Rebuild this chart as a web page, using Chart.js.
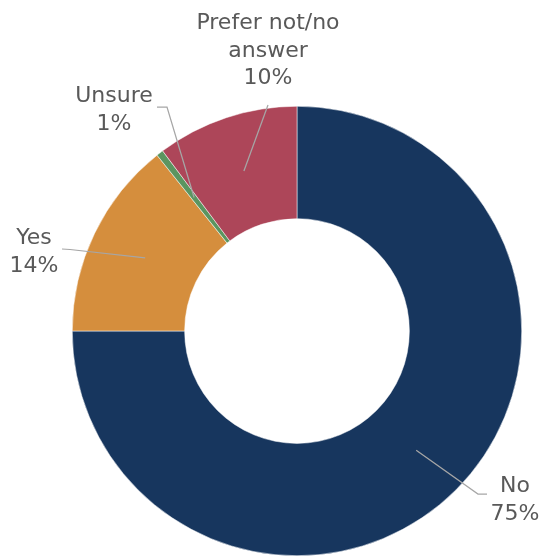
<!DOCTYPE html>
<html>
<head>
<meta charset="utf-8">
<script src="https://cdn.jsdelivr.net/npm/chart.js@4.4.1/dist/chart.umd.min.js"></script>
<style>
  html, body { margin: 0; padding: 0; background: #ffffff; }
  #wrap { position: relative; width: 540px; height: 557px; }
</style>
</head>
<body>
<div id="wrap"><canvas id="donut-chart"></canvas></div>
<script>
// answers, starting at 12 o'clock and going clockwise
const categories = ["No", "Yes", "Unsure", "Prefer not/no answer"];
const shares = [75, 14.3, 0.5, 10.2];
const pctLabels = ["75%", "14%", "1%", "10%"];
const colors = ["#17365e", "#d58e3d", "#5b9560", "#ad4659"];

// where Excel put each data label (text lines, centre x, first baseline)
// and the elbow of its leader line
const labelLayout = [
  { lines: ["No"], x: 515, y: 492, elbow: [[478, 494], [487, 494]] },
  { lines: ["Yes"], x: 34, y: 244, elbow: [[70, 249.5], [62, 249]] },
  { lines: ["Unsure"], x: 114, y: 102, elbow: [[167, 107], [157, 107]] },
  { lines: ["Prefer not/no", "answer"], x: 268, y: 29, elbow: [[268, 105]] },
];

// draws the data labels with their grey leader lines
const calloutLabels = {
  id: "calloutLabels",
  afterDatasetsDraw(chart) {
    const ctx = chart.ctx;
    const arcs = chart.getDatasetMeta(0).data;
    ctx.save();
    ctx.strokeStyle = "#a6a6a6";
    ctx.lineWidth = 1.25;
    arcs.forEach((arc, i) => {
      const p = arc.tooltipPosition();
      ctx.beginPath();
      ctx.moveTo(p.x, p.y);
      labelLayout[i].elbow.forEach(pt => ctx.lineTo(pt[0], pt[1]));
      ctx.stroke();
    });
    ctx.fillStyle = "#595959";
    ctx.font = "22px 'DejaVu Sans'";
    ctx.textAlign = "center";
    ctx.textBaseline = "alphabetic";
    labelLayout.forEach((lab, i) => {
      const lines = lab.lines.concat([pctLabels[i]]);
      lines.forEach((t, k) => ctx.fillText(t, lab.x, lab.y + k * 27.5));
    });
    ctx.restore();
  }
};

const config = {
  type: "doughnut",
  data: {
    labels: categories,
    datasets: [{
      data: shares,
      backgroundColor: colors,
      borderColor: "#ffffff",
      borderWidth: 0.5,
    }],
  },
  options: {
    responsive: true,
    maintainAspectRatio: false,
    animation: false,
    cutout: "50%",
    layout: {
      padding: { left: 72, right: 18, top: 106, bottom: 1 },
    },
    plugins: {
      legend: { display: false },
      tooltip: { enabled: false },
      title: { display: false },
    },
  },
  plugins: [calloutLabels],
};

const ctx = document.getElementById("donut-chart").getContext("2d");
const myDonut = new Chart(ctx, config);
</script>
</body>
</html>
